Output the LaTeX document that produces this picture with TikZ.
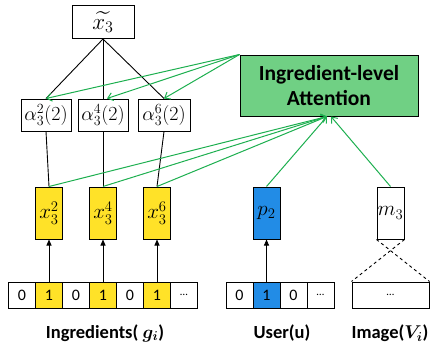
\RequirePackage{fix-cm}
\documentclass[tikz,border=0pt]{standalone}
\usepackage{amsmath}
\usepackage{fontspec}
\setmainfont{Carlito}
\usetikzlibrary{arrows.meta}
\definecolor{lgreen}{RGB}{29,175,79}
\definecolor{attfill}{RGB}{112,208,132}
\definecolor{ylw}{RGB}{255,226,40}
\definecolor{blu}{RGB}{34,140,230}
\tikzset{
  box/.style={draw=black, line width=1pt, rectangle, inner sep=0pt, font=\fontsize{20}{22}\selectfont},
  vbox/.style={box, minimum width=27pt, minimum height=52pt, font=\fontsize{21}{23}\selectfont},
  cell/.style={box, minimum width=27pt, minimum height=26pt, font=\fontsize{16}{18}\selectfont},
  conn/.style={black, line width=0.9pt},
  garrow/.style={lgreen, line width=1pt, -{Straight Barb[length=5pt,width=8pt]}},
  barrow/.style={black, line width=0.9pt, -{Triangle[length=6pt,width=5pt]}},
  lbl/.style={font=\fontsize{18.5}{20}\selectfont\bfseries},
}
\begin{document}
\begin{tikzpicture}[x=1pt,y=-1pt]
\useasboundingbox (0,0) rectangle (430,348);
% top
\node[box, minimum width=62pt, minimum height=33pt, font=\fontsize{23}{25}\selectfont] (xt) at (103,22) {$\widetilde{x_3}$};
\node[box, minimum width=50pt, minimum height=32pt] (a1) at (46,115) {$\alpha_3^2(2)$};
\node[box, minimum width=50pt, minimum height=32pt] (a2) at (103,115) {$\alpha_3^4(2)$};
\node[box, minimum width=52pt, minimum height=32pt] (a3) at (164,115) {$\alpha_3^6(2)$};
\node[box, fill=attfill, minimum width=178pt, minimum height=61pt, align=center,
      font=\fontsize{21.5}{25}\selectfont\bfseries] (att) at (329,85.5) {Ingredient-level\\Attention};
% vectors
\node[vbox, fill=ylw] (y1) at (49,213) {$x_3^2$};
\node[vbox, fill=ylw] (y2) at (103,213) {$x_3^4$};
\node[vbox, fill=ylw] (y3) at (157,213) {$x_3^6$};
\node[vbox, fill=blu] (p) at (266.5,213) {$p_2$};
\node[vbox] (m) at (390.5,213) {$m_3$};
% ingredient cells
\node[cell] (g0) at (22,295) {0};
\node[cell, fill=ylw] (g1) at (49,295) {1};
\node[cell] (g2) at (76,295) {0};
\node[cell, fill=ylw] (g3) at (103,295) {1};
\node[cell] (g4) at (130,295) {0};
\node[cell, fill=ylw] (g5) at (157,295) {1};
\node[cell, font=\fontsize{11}{12}\selectfont] (g6) at (184,295) {\ldots};
% user cells
\node[cell] (u0) at (239.5,295) {0};
\node[cell, fill=blu] (u1) at (266.5,295) {1};
\node[cell] (u2) at (293.5,295) {0};
\node[cell, font=\fontsize{11}{12}\selectfont] (u3) at (320.5,295) {\ldots};
% image rect
\node[box, minimum width=77pt, minimum height=26pt, font=\fontsize{11}{12}\selectfont] (img) at (390.5,295) {\ldots};
% labels
\node[lbl] (l1) at (105,333) {Ingredients( $\boldsymbol{g_i}$)};
\node[lbl] (l2) at (282,333) {User(u)};
\node[lbl] (l3) at (390,333) {Image($\boldsymbol{V_i}$)};
% black connectors
\draw[conn] (xt.south) -- (a1.north);
\draw[conn] (xt.south) -- (a2.north);
\draw[conn] (xt.south) -- (a3.north);
\draw[conn] (a1.south) -- (y1.north);
\draw[conn] (a2.south) -- (y2.north);
\draw[conn] (a3.south) -- (y3.north);
\draw[barrow] (g1.north) -- (y1.south);
\draw[barrow] (g3.north) -- (y2.south);
\draw[barrow] (g5.north) -- (y3.south);
\draw[barrow] (u1.north) -- (p.south);
\draw[conn, dashed] (m.south west) -- (img.north east);
\draw[conn, dashed] (m.south east) -- (img.north west);
% green arrows
\draw[garrow] (att.north west) -- (a1.north);
\draw[garrow] (att.north west) -- ([xshift=4pt]a2.north);
\draw[garrow] (att.north west) -- (a3.north);
\draw[garrow] (y1.north) -- ([xshift=-2pt]att.south);
\draw[garrow] (y2.north) -- ([xshift=-2pt]att.south);
\draw[garrow] (y3.north) -- ([xshift=-2pt]att.south);
\draw[garrow] (p.north) -- ([xshift=-2pt]att.south);
\draw[garrow] (m.north) -- ([xshift=2pt]att.south);
\end{tikzpicture}
\end{document}
